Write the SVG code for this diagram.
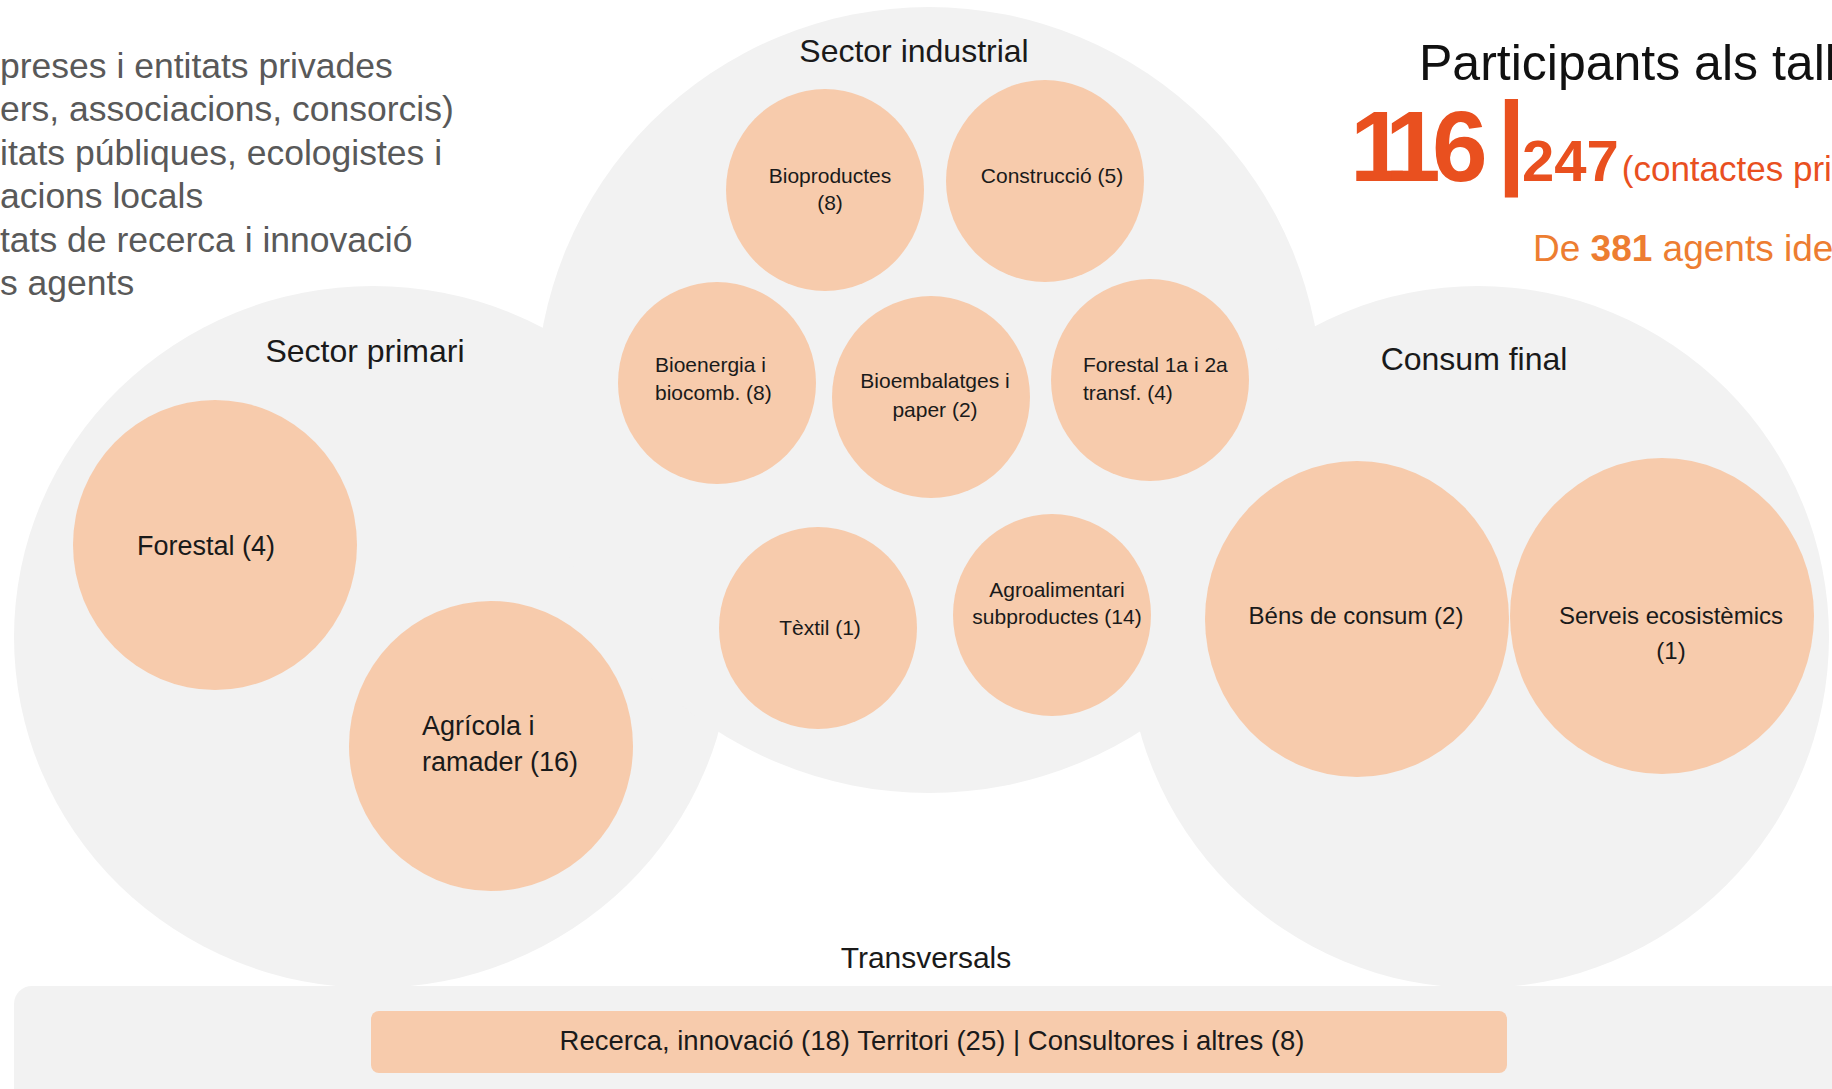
<svg xmlns="http://www.w3.org/2000/svg" width="1832" height="1089" viewBox="0 0 1832 1089">
<style>
.bg{fill:#F2F2F2}
.node{fill:#F7CBAC}
.t{font-family:"Liberation Sans",Arial,sans-serif;fill:#1a1a1a}
.sec{font-size:32px}
.ind{font-size:21px}
.big{font-size:27px}
.mid{font-size:24px}
.c{text-anchor:middle}
.legend{font-family:"Liberation Sans",Arial,sans-serif;font-size:35.5px;fill:#595959}
</style>
<rect width="1832" height="1089" fill="#FFFFFF"/>

<g id="legend">
<text class="legend" x="0" y="78">preses i entitats privades</text>
<text class="legend" x="0" y="121">ers, associacions, consorcis)</text>
<text class="legend" x="0" y="165">itats públiques, ecologistes i</text>
<text class="legend" x="0" y="208">acions locals</text>
<text class="legend" x="0" y="252">tats de recerca i innovació</text>
<text class="legend" x="0" y="295">s agents</text>
</g>

<g id="stats">
<text x="1419" y="80" font-family="Liberation Sans, Arial, sans-serif" font-size="50" fill="#111111">Participants als tall</text>
<text y="181" font-family="Liberation Sans, Arial, sans-serif" font-weight="bold" fill="#E9501F"><tspan x="1350 1385 1432" font-size="100">116</tspan><tspan x="1497" y="174" font-size="103">|</tspan><tspan x="1522" y="181" font-size="58">247</tspan><tspan font-size="35" font-weight="normal" dx="3">(contactes pri</tspan></text>
<text x="1533" y="261" font-family="Liberation Sans, Arial, sans-serif" font-size="37" fill="#ED7D31">De <tspan font-weight="bold">381</tspan> agents ide</text>
</g>

<g id="region-primari">
<ellipse class="bg" cx="373" cy="637" rx="359" ry="351"/>
</g>
<g id="region-industrial">
<circle class="bg" cx="929" cy="400" r="393"/>
</g>
<g id="region-consum">
<circle class="bg" cx="1478" cy="637" r="351"/>
</g>
<g id="region-transversals">
<rect class="bg" x="14" y="986" width="1840" height="140" rx="18"/>
<text class="t c" x="926" y="968" font-size="30">Transversals</text>
</g>
<g id="region-labels">
<text class="t sec c" x="365" y="362">Sector primari</text>
<text class="t sec c" x="914" y="62">Sector industrial</text>
<text class="t sec c" x="1474" y="370">Consum final</text>
</g>

<g id="node-forestal">
<ellipse class="node" cx="215" cy="545" rx="142" ry="145"/>
<text class="t big" x="137" y="555">Forestal (4)</text>
</g>
<g id="node-agricola">
<ellipse class="node" cx="491" cy="746" rx="142" ry="145"/>
<text class="t big" x="422" y="735">Agrícola i</text>
<text class="t big" x="422" y="771">ramader (16)</text>
</g>
<g id="node-bioproductes">
<ellipse class="node" cx="825" cy="190" rx="99" ry="101"/>
<text class="t ind c" x="830" y="183">Bioproductes</text>
<text class="t ind c" x="830" y="210">(8)</text>
</g>
<g id="node-construccio">
<ellipse class="node" cx="1045" cy="181" rx="99" ry="101"/>
<text class="t ind c" x="1052" y="183">Construcció (5)</text>
</g>
<g id="node-bioenergia">
<ellipse class="node" cx="717" cy="383" rx="99" ry="101"/>
<text class="t ind" x="655" y="372">Bioenergia i</text>
<text class="t ind" x="655" y="400">biocomb. (8)</text>
</g>
<g id="node-bioembalatges">
<ellipse class="node" cx="931" cy="397" rx="99" ry="101"/>
<text class="t ind c" x="935" y="388">Bioembalatges i</text>
<text class="t ind c" x="935" y="417">paper (2)</text>
</g>
<g id="node-forestal-transf">
<ellipse class="node" cx="1150" cy="380" rx="99" ry="101"/>
<text class="t ind" x="1083" y="372">Forestal 1a i 2a</text>
<text class="t ind" x="1083" y="400">transf. (4)</text>
</g>
<g id="node-textil">
<ellipse class="node" cx="818" cy="628" rx="99" ry="101"/>
<text class="t ind c" x="820" y="635">Tèxtil (1)</text>
</g>
<g id="node-agroalimentari">
<ellipse class="node" cx="1052" cy="615" rx="99" ry="101"/>
<text class="t ind c" x="1057" y="597">Agroalimentari</text>
<text class="t ind c" x="1057" y="624">subproductes (14)</text>
</g>
<g id="node-bens">
<ellipse class="node" cx="1357" cy="619" rx="152" ry="158"/>
<text class="t mid c" x="1356" y="624">Béns de consum (2)</text>
</g>
<g id="node-serveis">
<ellipse class="node" cx="1662" cy="616" rx="152" ry="158"/>
<text class="t mid c" x="1671" y="624">Serveis ecosistèmics</text>
<text class="t mid c" x="1671" y="659">(1)</text>
</g>
<g id="node-transversals-bar">
<rect class="node" x="371" y="1011" width="1136" height="62" rx="8"/>
<text class="t c" x="932" y="1050" font-size="27.5">Recerca, innovació (18)  Territori (25) | Consultores i altres (8)</text>
</g>

<g id="connectors"/>
</svg>
